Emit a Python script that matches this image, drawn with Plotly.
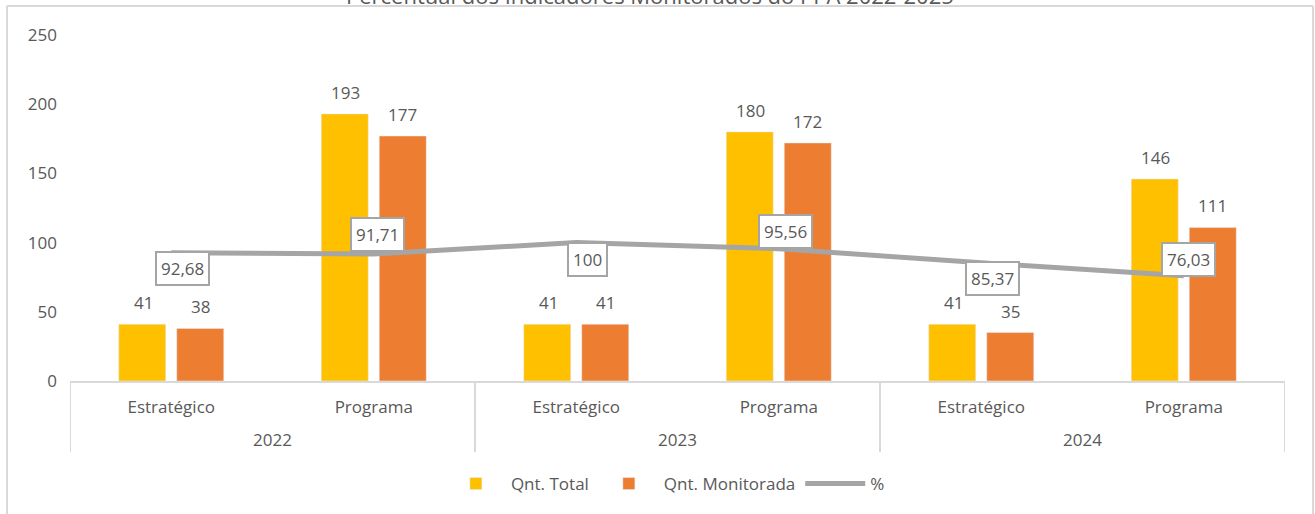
import plotly.graph_objects as go

year_labels = ["2022", "2023", "2024"]
cats = ["Estratégico", "Programa", "Estratégico", "Programa", "Estratégico", "Programa"]
qnt_total = [41, 193, 41, 180, 41, 146]
qnt_monit = [38, 177, 41, 172, 35, 111]
pct = [92.68, 91.71, 100, 95.56, 85.37, 76.03]
pct_labels = ["92,68", "91,71", "100", "95,56", "85,37", "76,03"]
title_text = "Percentual dos Indicadores Monitorados do PPA 2022-2025"

FONT = "Open Sans"
GRAY_TXT = "#595959"
GRID = "#D9D9D9"
xpos = list(range(len(cats)))

fig = go.Figure()
fig.add_trace(go.Bar(x=xpos, y=qnt_total, name="Qnt. Total", marker_color="#FFC000"))
fig.add_trace(go.Bar(x=xpos, y=qnt_monit, name="Qnt. Monitorada", marker_color="#ED7D31"))
fig.add_trace(go.Scatter(x=xpos, y=pct, name="%", mode="lines",
                         line=dict(color="#A5A5A5", width=5)))

# bar value labels
for series, shift in ((qnt_total, -28), (qnt_monit, 29)):
    for i, v in enumerate(series):
        fig.add_annotation(x=i, y=v, xref="x", yref="y", text=str(v), showarrow=False,
                           xshift=shift, yshift=8, yanchor="bottom",
                           font=dict(size=17, color=GRAY_TXT, family=FONT))

# percentage labels in boxes
offs = [(11, -16), (4, 20), (11, -17), (7, 17), (11, -16), (5, 16)]
for i, (lab, v) in enumerate(zip(pct_labels, pct)):
    dx, dy = offs[i]
    fig.add_annotation(x=i, y=v, xref="x", yref="y", text=lab, showarrow=False,
                       xshift=dx, yshift=dy, bgcolor="white", bordercolor="#A5A5A5",
                       borderwidth=2, borderpad=4,
                       font=dict(size=17, color=GRAY_TXT, family=FONT))

# year group labels and dividers
for g, yl in enumerate(year_labels):
    fig.add_annotation(x=2 * g + 0.5, y=-59 / 346, xref="x", yref="paper", text=yl,
                       showarrow=False, yanchor="middle",
                       font=dict(size=17, color=GRAY_TXT, family=FONT))
for b in range(len(year_labels) + 1):
    fig.add_shape(type="line", xref="x", yref="paper", x0=2 * b - 0.5, x1=2 * b - 0.5,
                  y0=0, y1=-71 / 346, line=dict(color=GRID, width=2))

# title, partly cut off at the top edge as in the reference
fig.add_annotation(text=title_text, xref="paper", yref="paper", x=0.477, y=1 + 40 / 346,
                   xanchor="center", yanchor="middle", showarrow=False,
                   font=dict(size=22, color=GRAY_TXT, family=FONT))

fig.update_layout(
    width=1315, height=514,
    margin=dict(l=70, r=30, t=35, b=133, autoexpand=False),
    paper_bgcolor="white", plot_bgcolor="white",
    barmode="group", bargap=0.427, bargroupgap=0.19,
    font=dict(family=FONT, color=GRAY_TXT, size=17),
    legend=dict(orientation="h", x=0.506, xanchor="center", xref="container",
                y=1 - 484 / 514, yanchor="middle", yref="container", itemwidth=60,
                font=dict(size=17, color=GRAY_TXT, family=FONT), traceorder="normal"),
    showlegend=True,
)
fig.update_yaxes(range=[0, 250], dtick=50, showgrid=False, zeroline=False,
                 showline=False, ticks="", tickfont=dict(size=17, color=GRAY_TXT),
                 ticklabelstandoff=12, automargin=False)
fig.update_xaxes(range=[-0.5, 5.5], tickvals=xpos, ticktext=cats, showline=True,
                 linecolor=GRID, linewidth=2, ticks="", showgrid=False, zeroline=False,
                 tickfont=dict(size=17, color=GRAY_TXT), ticklabelstandoff=10,
                 automargin=False)

# outer frame of the chart area (top and side edges)
fx0, fx1, fy = -63 / 1215, 1 + 28 / 1215, 1 + 29 / 346
fig.add_shape(type="line", xref="paper", yref="paper", x0=fx0, x1=fx1, y0=fy, y1=fy,
              line=dict(color=GRID, width=2))
fig.add_shape(type="line", xref="paper", yref="paper", x0=fx0, x1=fx0, y0=fy, y1=-0.4,
              line=dict(color=GRID, width=2))
fig.add_shape(type="line", xref="paper", yref="paper", x0=fx1, x1=fx1, y0=fy, y1=-0.4,
              line=dict(color=GRID, width=2))

fig.write_html("out.html", config={"displayModeBar": False},
               post_script="document.body.style.margin='0';document.body.style.overflow='hidden';")
